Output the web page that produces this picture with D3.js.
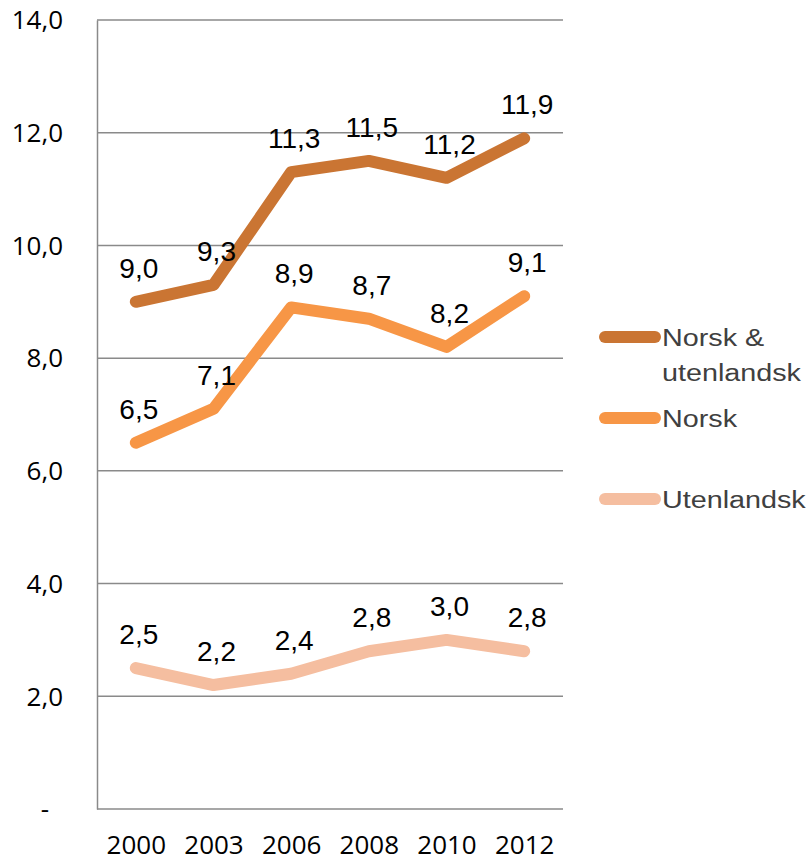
<!DOCTYPE html>
<html><head><meta charset="utf-8">
<script src="https://cdn.jsdelivr.net/npm/d3@7"></script>
<style>body{margin:0;background:#fff}</style>
</head><body>
<svg id="c" width="811" height="861"></svg>
<script>
const years = ["2000","2003","2006","2008","2010","2012"];
const seriesNames = ["Norsk & utenlandsk","Norsk","Utenlandsk"];
const legendLines = [["Norsk &","utenlandsk"],["Norsk"],["Utenlandsk"]];
const totalVals = [9.0, 9.3, 11.3, 11.5, 11.2, 11.9];
const norskVals = [6.5, 7.1, 8.9, 8.7, 8.2, 9.1];
const utenVals  = [2.5, 2.2, 2.4, 2.8, 3.0, 2.8];
const yTicks = [0, 2, 4, 6, 8, 10, 12, 14];
const colors = ["#CA7533", "#F79646", "#F5BEA0"];

const series = [totalVals, norskVals, utenVals];
const svg = d3.select("#c");
const L = 97, R = 563, T = 20, B = 809;
const x = d3.scalePoint().domain(years).range([L, R]).padding(0.5);
const y = d3.scaleLinear().domain([0, 14]).range([B, T]);
const fmt = v => v === 0 ? "-" : d3.format(".1f")(v).replace(".", ",");

// gridlines
svg.append("g").selectAll("line").data(yTicks.filter(d => d > 0)).join("line")
  .attr("x1", L).attr("x2", R).attr("y1", d => y(d)).attr("y2", d => y(d))
  .attr("stroke", "#8a8a8a").attr("stroke-width", 1.5);

// y axis
const ya = svg.append("g").attr("transform", `translate(${L},0)`)
  .call(d3.axisLeft(y).tickValues(yTicks).tickFormat(fmt).tickSize(0).tickPadding(34));
ya.select(".domain").attr("stroke", "#8a8a8a").attr("stroke-width", 1.5);
ya.selectAll("text").attr("font-family", "'Open Sans', sans-serif").attr("font-size", 26)
  .attr("fill", "#000").attr("dy", "0.34em");
ya.selectAll(".tick").filter(d => d === 0).select("text").attr("x", -48);

// x axis
const xa = svg.append("g").attr("transform", `translate(0,${B})`)
  .call(d3.axisBottom(x).tickSize(0).tickPadding(27));
xa.select(".domain").attr("stroke", "#8a8a8a").attr("stroke-width", 1.5).attr("d", `M${L},0H${R}`);
xa.selectAll("text").attr("font-family", "'Open Sans', sans-serif").attr("font-size", 26)
  .attr("fill", "#000").attr("dy", "0.71em");

// lines
const line = d3.line().x((d, i) => x(years[i])).y(d => y(d));
series.forEach((vals, si) => {
  svg.append("path").datum(vals).attr("d", line)
    .attr("fill", "none").attr("stroke", colors[si]).attr("stroke-width", 12)
    .attr("stroke-linejoin", "round").attr("stroke-linecap", "round");
});

// data labels
series.forEach((vals, si) => {
  svg.append("g").selectAll("text").data(vals).join("text")
    .attr("x", (d, i) => x(years[i]) + 3).attr("y", d => y(d) - 24)
    .attr("text-anchor", "middle")
    .attr("font-family", "'Liberation Sans', Arial, sans-serif").attr("font-size", 28)
    .attr("fill", "#000").text(d => fmt(d));
});

// legend
const legY = [337, 418, 499];
seriesNames.forEach((name, si) => {
  const g = svg.append("g");
  g.append("line").attr("x1", 605).attr("x2", 655).attr("y1", legY[si]).attr("y2", legY[si])
    .attr("stroke", colors[si]).attr("stroke-width", 12).attr("stroke-linecap", "round");
  legendLines[si].forEach((t, li) => {
    g.append("text")
      .attr("transform", `translate(662,${legY[si] + 9 + li * 35}) scale(1.25,1)`)
      .attr("font-family", "'Liberation Sans', Arial, sans-serif").attr("font-size", 23)
      .attr("fill", "#404040").text(t);
  });
});
</script>
</body></html>
